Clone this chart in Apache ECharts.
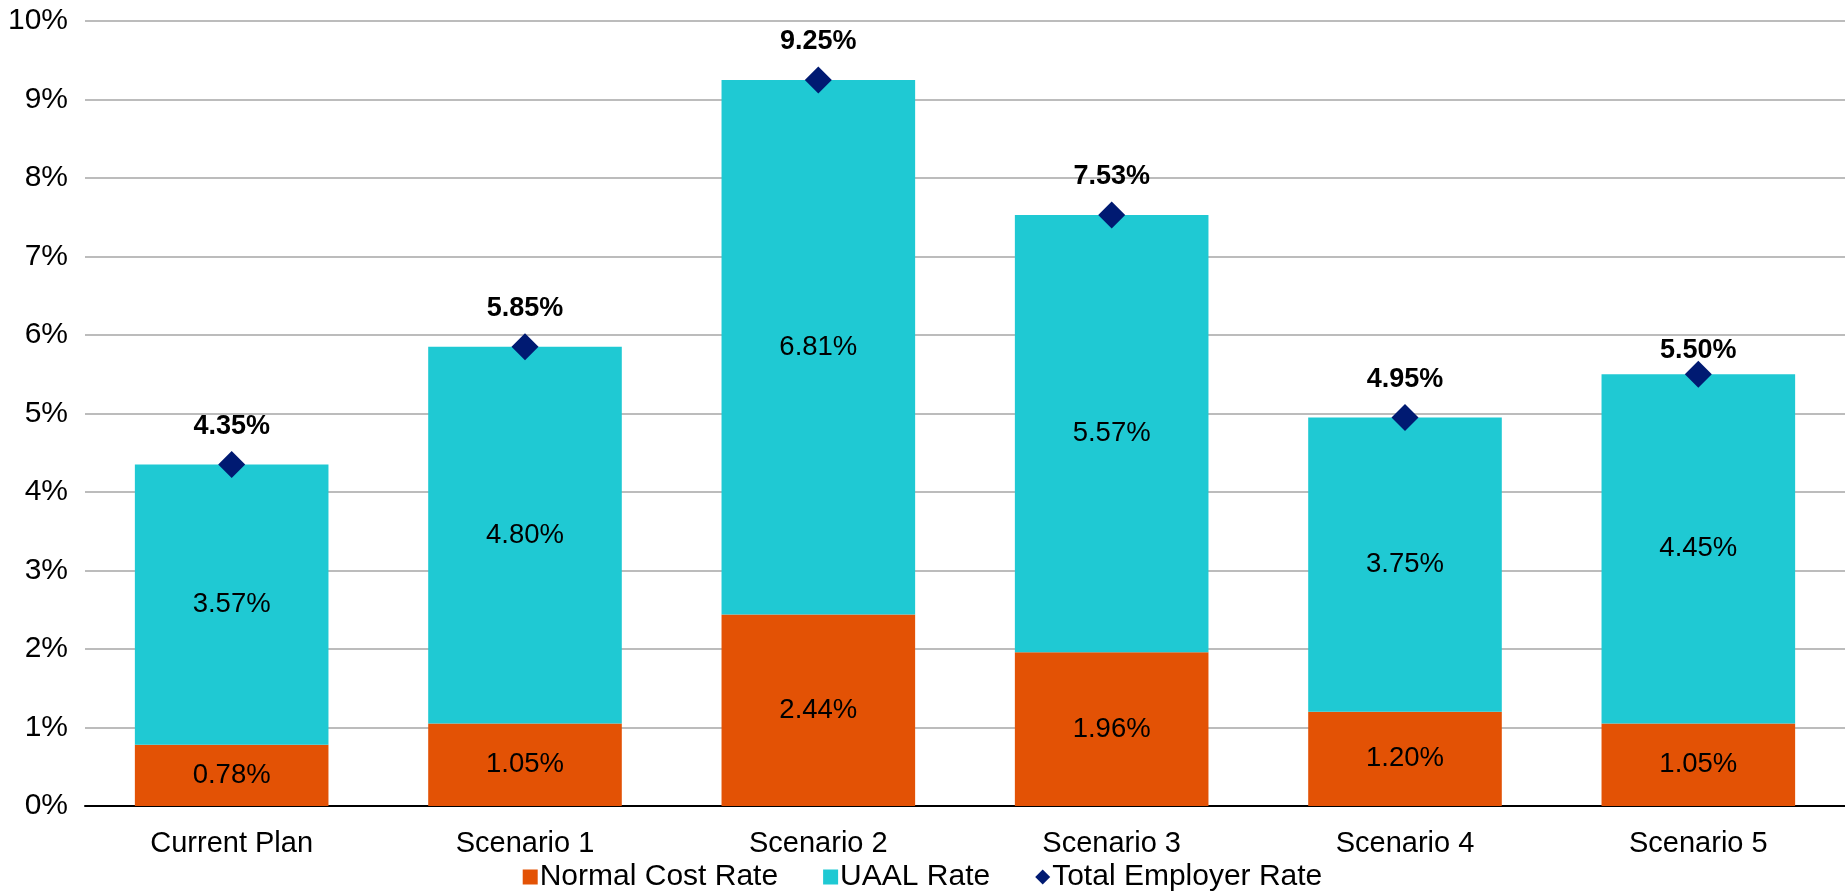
<!DOCTYPE html>
<html>
<head>
<meta charset="utf-8">
<script src="https://cdn.jsdelivr.net/npm/echarts@6/dist/echarts.min.js"></script>
<style>
  html, body { margin: 0; padding: 0; background: #fff; }
  #chart { width: 1845px; height: 893px; }
</style>
</head>
<body>
<div id="chart"></div>
<script>
// Contribution rates by plan design (% of payroll)
const categories = ['Current Plan', 'Scenario 1', 'Scenario 2', 'Scenario 3', 'Scenario 4', 'Scenario 5'];
const normalCostRate = [0.78, 1.05, 2.44, 1.96, 1.20, 1.05];
const uaalRate = [3.57, 4.80, 6.81, 5.57, 3.75, 4.45];
const totalEmployerRate = [4.35, 5.85, 9.25, 7.53, 4.95, 5.50];
const yTicks = [0, 1, 2, 3, 4, 5, 6, 7, 8, 9, 10];

const FONT = '"Liberation Sans", Arial, sans-serif';
const pct = v => v.toFixed(2) + '%';

const chart = echarts.init(document.getElementById('chart'));

// The last total label sits closer to its marker
const totalData = totalEmployerRate.map((v, i) =>
  i === totalEmployerRate.length - 1 ? { value: v, label: { distance: -3 } } : v
);

chart.setOption({
  animation: false,
  textStyle: { fontFamily: FONT },
  grid: { left: 85, right: 0, top: 21, bottom: 87, containLabel: false },
  legend: {
    top: 857,
    left: 'center',
    itemWidth: 15,
    itemHeight: 15,
    itemGap: 45,
    textStyle: { fontSize: 30, color: '#000', fontFamily: FONT, padding: [0, 0, 0, -3] },
    data: [
      { name: 'Normal Cost Rate', icon: 'rect' },
      { name: 'UAAL Rate', icon: 'rect' },
      { name: 'Total Employer Rate', icon: 'diamond', itemStyle: { color: '#001A72' } }
    ]
  },
  xAxis: {
    type: 'category',
    data: categories,
    axisLine: { lineStyle: { color: '#000', width: 2 } },
    axisTick: { show: false },
    axisLabel: { fontSize: 29, color: '#000', margin: 23 }
  },
  yAxis: {
    type: 'value',
    min: yTicks[0],
    max: yTicks[yTicks.length - 1],
    interval: 1,
    axisLine: { show: false },
    axisTick: { show: false },
    splitLine: { lineStyle: { color: '#A6A6A6', width: 1.5 } },
    axisLabel: { fontSize: 30, color: '#000', margin: 17, formatter: v => v + '%' }
  },
  series: [
    {
      name: 'Normal Cost Rate',
      type: 'bar',
      stack: 'rate',
      barWidth: '66%',
      data: normalCostRate,
      itemStyle: { color: '#E35205' },
      label: { show: true, position: 'inside', fontSize: 27.5, color: '#000', formatter: p => pct(p.value) }
    },
    {
      name: 'UAAL Rate',
      type: 'bar',
      stack: 'rate',
      barWidth: '66%',
      data: uaalRate,
      itemStyle: { color: '#1FC9D3' },
      label: { show: true, position: 'inside', fontSize: 27.5, color: '#000', formatter: p => pct(p.value) }
    },
    {
      name: 'Total Employer Rate',
      type: 'line',
      data: totalData,
      lineStyle: { width: 0, opacity: 0 },
      symbol: 'diamond',
      symbolSize: 27,
      itemStyle: { color: '#001A72' },
      label: {
        show: true,
        position: 'top',
        distance: 11,
        fontSize: 27,
        fontWeight: 'bold',
        color: '#000',
        formatter: p => pct(p.value)
      },
      z: 5
    }
  ]
});
</script>
</body>
</html>
